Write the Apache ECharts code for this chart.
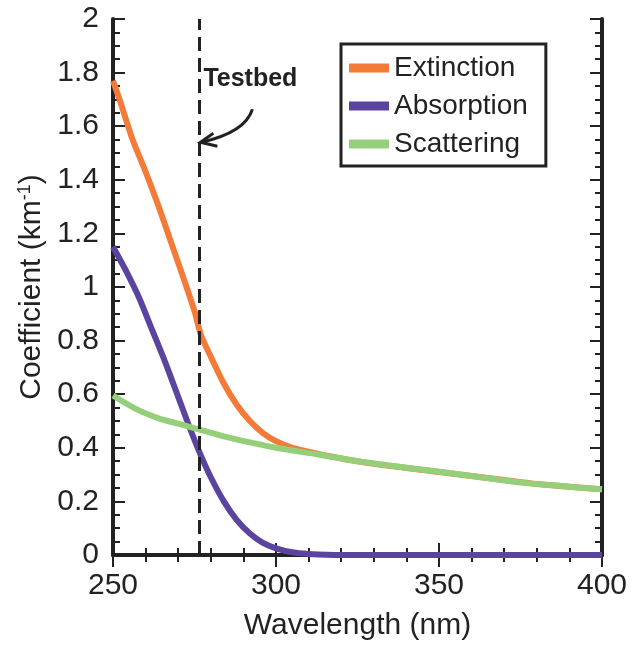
<!DOCTYPE html>
<html>
<head>
<meta charset="utf-8">
<script src="https://cdn.jsdelivr.net/npm/echarts@6/dist/echarts.min.js"></script>
<style>
  html, body { margin: 0; padding: 0; background: #fff; }
  #chart { width: 632px; height: 647px; }
</style>
</head>
<body>
<div id="chart"></div>
<script>
// wavelength (nm) / coefficient (km^-1)
const extinctionX = [250, 252, 256, 260, 264, 268, 272, 275, 277, 280, 284, 288, 292, 296, 300, 305, 312, 320, 330, 340, 350, 360, 370, 380, 390, 400]
const extinctionY = [1.77, 1.70, 1.55, 1.43, 1.30, 1.16, 1.02, 0.91, 0.82, 0.74, 0.64, 0.56, 0.50, 0.455, 0.425, 0.40, 0.38, 0.36, 0.34, 0.325, 0.31, 0.295, 0.28, 0.265, 0.255, 0.245]

const absorptionX = [250, 254, 258, 262, 266, 270, 274, 277, 280, 284, 288, 292, 296, 300, 305, 310, 320, 400]
const absorptionY = [1.15, 1.06, 0.96, 0.84, 0.72, 0.59, 0.46, 0.37, 0.29, 0.20, 0.13, 0.08, 0.045, 0.025, 0.01, 0.004, 0, 0]

const scatteringX = [250, 257, 264, 270, 276, 285, 292, 300, 313, 325, 344, 360, 375, 390, 400]
const scatteringY = [0.595, 0.545, 0.51, 0.49, 0.47, 0.44, 0.42, 0.40, 0.375, 0.35, 0.32, 0.295, 0.27, 0.255, 0.245]

const testbedX = 276.5

function pairs(xs, ys) {
  return xs.map((x, i) => [x, ys[i]])
}

const font = "Liberation Sans, Arial, sans-serif"
const ink = "#222"

// fresh objects for every axis, ticks pointing into the plot
function frameAxis(extra) {
  return Object.assign({
    type: "value",
    axisLine: { show: true, lineStyle: { color: ink, width: 4 } },
    axisTick: { show: true, inside: true, length: 12, lineStyle: { color: ink, width: 2 } },
    splitLine: { show: false }
  }, extra)
}

function minor(n) {
  return { show: true, splitNumber: n, length: 7, lineStyle: { color: ink, width: 2 } }
}

const chart = echarts.init(document.getElementById("chart"))

const option = {
  animation: false,
  grid: { left: 113, right: 30, top: 19, bottom: 92 },
  legend: {
    orient: "vertical",
    left: 341,
    top: 44,
    padding: [10, 18, 8, 8],
    itemGap: 10,
    itemWidth: 40,
    itemHeight: 9,
    icon: "rect",
    borderColor: ink,
    borderWidth: 3,
    textStyle: { fontFamily: font, fontSize: 28, color: ink }
  },
  xAxis: [
    frameAxis({
      min: 250,
      max: 400,
      interval: 50,
      minorTick: minor(5),
      axisLabel: { fontFamily: font, fontSize: 30, color: ink, margin: 16 },
      name: "Wavelength (nm)",
      nameLocation: "middle",
      nameGap: 56,
      nameTextStyle: { fontFamily: font, fontSize: 30, color: ink }
    }),
    frameAxis({
      position: "top",
      min: 250,
      max: 400,
      interval: 50,
      minorTick: minor(5),
      axisLabel: { show: false }
    })
  ],
  yAxis: [
    frameAxis({
      min: 0,
      max: 2,
      interval: 0.2,
      minorTick: minor(4),
      axisLabel: {
        fontFamily: font,
        fontSize: 30,
        color: ink,
        margin: 14,
        formatter: v => String(Math.round(v * 10) / 10)
      },
      name: "{a|Coefficient (km}{s|-1}{a|)}",
      nameLocation: "middle",
      nameGap: 64,
      nameTextStyle: {
        rich: {
          a: { fontFamily: font, fontSize: 30, color: ink },
          s: { fontFamily: font, fontSize: 18, color: ink, verticalAlign: "top", padding: [0, 0, 12, 0] }
        }
      }
    }),
    frameAxis({
      position: "right",
      min: 0,
      max: 2,
      interval: 0.2,
      minorTick: minor(4),
      axisLabel: { show: false }
    })
  ],
  series: [
    {
      name: "Extinction",
      type: "line",
      data: pairs(extinctionX, extinctionY),
      smooth: 0.25,
      showSymbol: false,
      color: "#f47a38",
      lineStyle: { width: 6 },
      markLine: {
        silent: true,
        symbol: "none",
        label: { show: false },
        lineStyle: { color: ink, type: [14, 7], width: 3 },
        data: [{ xAxis: testbedX }]
      }
    },
    {
      name: "Absorption",
      type: "line",
      data: pairs(absorptionX, absorptionY),
      smooth: 0.25,
      showSymbol: false,
      color: "#5b44a0",
      lineStyle: { width: 6 }
    },
    {
      name: "Scattering",
      type: "line",
      data: pairs(scatteringX, scatteringY),
      smooth: 0.25,
      showSymbol: false,
      color: "#96cf7a",
      lineStyle: { width: 6 }
    }
  ]
}

chart.setOption(option)

// Testbed annotation, anchored to the dashed line in data space
const tip = chart.convertToPixel({ gridIndex: 0 }, [testbedX, 1.54])
const labelPos = chart.convertToPixel({ gridIndex: 0 }, [testbedX, 1.77])
chart.setOption({
  graphic: [
    {
      type: "text",
      x: labelPos[0] + 4,
      y: labelPos[1] - 14,
      style: { text: "Testbed", fontFamily: font, fontWeight: "bold", fontSize: 25, fill: ink }
    },
    {
      type: "bezierCurve",
      shape: {
        x1: tip[0] + 53, y1: tip[1] - 33,
        cpx1: tip[0] + 46, cpy1: tip[1] - 10,
        x2: tip[0] + 2, y2: tip[1]
      },
      style: { stroke: ink, lineWidth: 3, fill: null }
    },
    {
      type: "polyline",
      shape: { points: [[tip[0] + 14, tip[1] - 9], [tip[0] + 1, tip[1]], [tip[0] + 18, tip[1] + 4]] },
      style: { stroke: ink, lineWidth: 3, fill: null }
    }
  ]
})
</script>
</body>
</html>
